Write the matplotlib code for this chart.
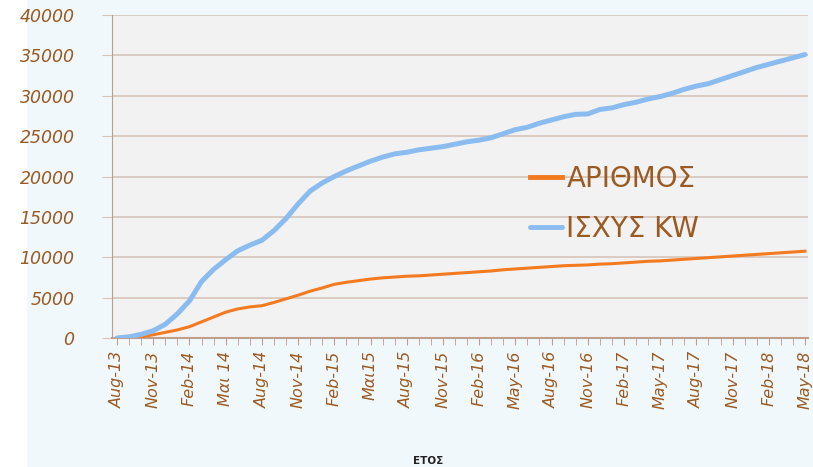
import matplotlib
matplotlib.use('agg')
import matplotlib.pyplot as plt
from matplotlib.patches import Rectangle
from matplotlib.ticker import MultipleLocator

# monthly values, Aug-13 .. May-18
months = ['Aug-13', 'Sep-13', 'Oct-13', 'Nov-13', 'Dec-13', 'Jan-14', 'Feb-14', 'Mar-14',
          'Apr-14', 'May-14', 'Jun-14', 'Jul-14', 'Aug-14', 'Sep-14', 'Oct-14', 'Nov-14',
          'Dec-14', 'Jan-15', 'Feb-15', 'Mar-15', 'Apr-15', 'May-15', 'Jun-15', 'Jul-15',
          'Aug-15', 'Sep-15', 'Oct-15', 'Nov-15', 'Dec-15', 'Jan-16', 'Feb-16', 'Mar-16',
          'Apr-16', 'May-16', 'Jun-16', 'Jul-16', 'Aug-16', 'Sep-16', 'Oct-16', 'Nov-16',
          'Dec-16', 'Jan-17', 'Feb-17', 'Mar-17', 'Apr-17', 'May-17', 'Jun-17', 'Jul-17',
          'Aug-17', 'Sep-17', 'Oct-17', 'Nov-17', 'Dec-17', 'Jan-18', 'Feb-18', 'Mar-18',
          'Apr-18', 'May-18']

arithmos = [0, 0, 150, 400, 700, 1000, 1400, 2000, 2600, 3200, 3600, 3850, 4000, 4400,
            4850, 5300, 5800, 6200, 6650, 6900, 7100, 7300, 7450, 7550, 7650, 7700, 7800,
            7900, 8000, 8100, 8200, 8300, 8450, 8550, 8650, 8750, 8850, 8950, 9000, 9050,
            9150, 9200, 9300, 9400, 9500, 9550, 9650, 9750, 9850, 9950, 10050, 10150,
            10250, 10350, 10450, 10550, 10650, 10750]

isxys = [0, 150, 450, 900, 1700, 3000, 4600, 7000, 8500, 9700, 10800, 11500, 12100,
         13300, 14800, 16600, 18200, 19200, 20000, 20700, 21300, 21900, 22400, 22800,
         23000, 23300, 23500, 23700, 24000, 24300, 24500, 24800, 25300, 25800, 26100,
         26600, 27000, 27400, 27700, 27750, 28300, 28500, 28900, 29200, 29600, 29900,
         30300, 30800, 31200, 31500, 32000, 32500, 33000, 33500, 33900, 34300, 34700,
         35100]

# every third month is labelled
tick_labels = ['Aug-13', 'Nov-13', 'Feb-14', 'Μαι 14', 'Aug-14', 'Nov-14', 'Feb-15',
               'Μαι15', 'Aug-15', 'Nov-15', 'Feb-16', 'May-16', 'Aug-16', 'Nov-16',
               'Feb-17', 'May-17', 'Aug-17', 'Nov-17', 'Feb-18', 'May-18']

brown = '#9a5a22'
grid_c = '#d6c4ba'
spine_c = '#bf9e8c'

fig = plt.figure(figsize=(8.13, 4.67), dpi=100)
fig.patch.set_facecolor('white')
bg = Rectangle((27 / 813, 0), 1 - 27 / 813, 1, transform=fig.transFigure,
               facecolor='#f1f8fc', edgecolor='none', zorder=-10)
fig.add_artist(bg)

ax = fig.add_axes([112 / 813, 1 - 338 / 467, 696 / 813, 323 / 467])
ax.set_zorder(5)
ax.set_facecolor('#f2f2f2')

xs = list(range(len(months)))
ax.plot(xs, arithmos, color='#f47a20', linewidth=2.2, label='ΑΡΙΘΜΟΣ', zorder=3)
ax.plot(xs, isxys, color='#8bbcf0', linewidth=3.6, label='ΙΣΧΥΣ KW',
        solid_capstyle='round', zorder=3)

ax.set_xlim(-0.42, len(months) - 1 + 0.25)
ax.set_ylim(0, 40000)
ax.set_yticks(range(0, 40001, 5000))
ax.yaxis.grid(True, color=grid_c, linewidth=1.2)
ax.set_axisbelow(True)

ax.set_xticks(xs[::3])
ax.set_xticklabels(tick_labels, rotation=90, color=brown, fontsize=11.5,
                   family='DejaVu Sans', style='italic')
ax.xaxis.set_minor_locator(MultipleLocator(1))
ax.tick_params(axis='x', which='both', length=5, color=spine_c, direction='out', pad=4)
ax.tick_params(axis='y', length=7, color=grid_c, labelcolor=brown, labelsize=12.5, pad=20)
for lab in ax.get_yticklabels():
    lab.set_style('italic')

for s in ['top', 'right']:
    ax.spines[s].set_visible(False)
ax.spines['left'].set_color(spine_c)
ax.spines['bottom'].set_color(spine_c)
ax.spines['bottom'].set_linewidth(1.5)

leg = ax.legend(loc='center left', bbox_to_anchor=(0.585, 0.415), frameon=False,
                fontsize=20, handlelength=1.15, handletextpad=0.15, labelspacing=0.8,
                borderaxespad=0, labelcolor=brown)
for h in leg.get_lines():
    h.set_linewidth(3.5)

fig.text(428 / 813, 1 - 461 / 467, 'ΕΤΟΣ', ha='center', va='center', fontsize=7.5,
         fontweight='bold', color='#222222')

fig.savefig('out.png', dpi=100, facecolor=fig.get_facecolor())
plt.close()
